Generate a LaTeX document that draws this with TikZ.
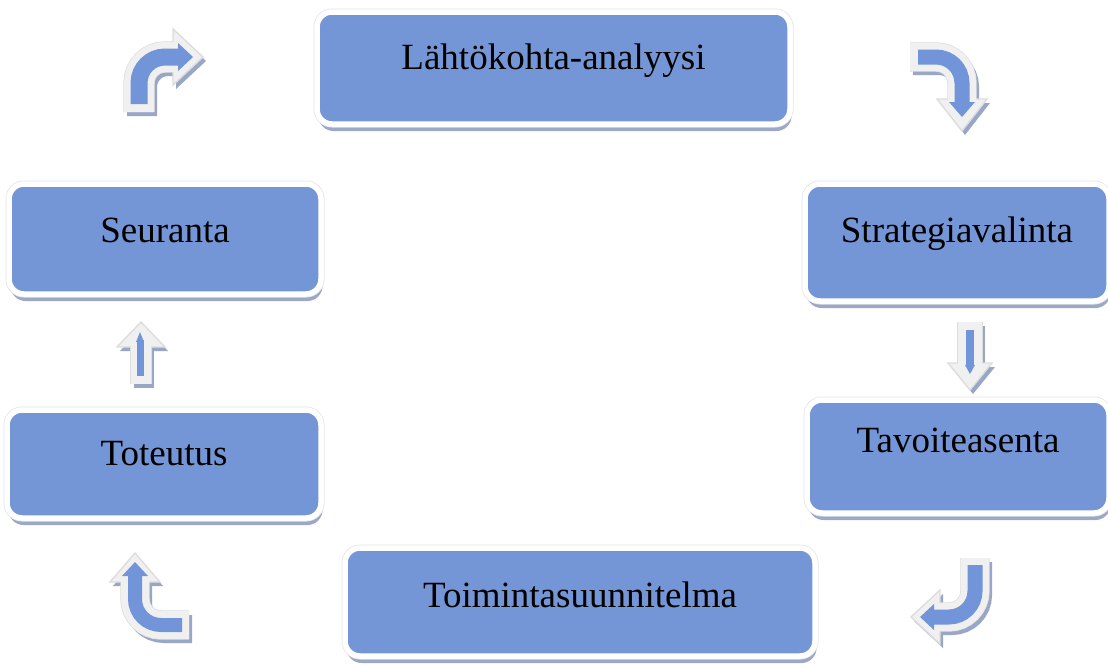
\documentclass[tikz,border=0pt]{standalone}
\usepackage{fontspec}
\setmainfont{Liberation Serif}
\usetikzlibrary{shadows}
\definecolor{boxblue}{HTML}{7596D6}
\definecolor{boxedge}{HTML}{E4E4E4}
\definecolor{boxshadow}{HTML}{8A99BE}
\definecolor{arblue}{HTML}{7195D8}
\definecolor{arbody}{HTML}{F0F0F0}
\definecolor{arrim}{HTML}{DDDDDD}
\definecolor{arshadow}{HTML}{98A6C8}

% block arrow: #1 outer shaft, #2 outer width, #3 outer head,
%              #4 inner shaft, #5 inner width, #6 inner head
\newcommand{\blockarrow}[6]{%
  \begin{scope}[xshift=3pt,yshift=-4pt]
    \draw[arshadow, line width=#2] #1;
    \fill[arshadow] #3 -- cycle;
  \end{scope}
  \draw[arrim, line width=#2+1.4] #1;
  \filldraw[arrim, line width=1.4pt, line join=miter, fill=arbody] #3 -- cycle;
  \draw[arbody, line width=#2] #1;
  \draw[arblue, line width=#5] #4;
  \fill[arblue] #6 -- cycle;
}

\begin{document}
\begin{tikzpicture}[x=1pt,y=-1pt,
  stage/.style={rectangle, rounded corners=15pt, inner sep=0pt, outer sep=0pt,
    drop shadow={shadow xshift=1.5pt, shadow yshift=-7pt, fill=boxshadow, opacity=0.85},
    preaction={draw=boxedge, line width=7pt},
    fill=boxblue, draw=white, line width=5.5pt,
    font=\fontsize{37}{44}\selectfont, text=black, anchor=north west}]
\useasboundingbox[fill=white] (0,0) rectangle (1108,664);

% process stages
\node[stage, minimum width=473pt, text height=57pt, text depth=55pt] (lahto) at (317,12) {Lähtökohta-analyysi};
\node[stage, minimum width=304pt, text height=58pt, text depth=59pt] (strat) at (805,184) {Strategiavalinta};
\node[stage, minimum width=302pt, text height=52pt, text depth=61pt] (tavo) at (807,400) {Tavoiteasenta};
\node[stage, minimum width=470pt, text height=59pt, text depth=49pt] (toim) at (345,548) {Toimintasuunnitelma};
\node[stage, minimum width=314pt, text height=55pt, text depth=53pt] (tote) at (7,410) {Toteutus};
\node[stage, minimum width=312pt, text height=58pt, text depth=52pt] (seur) at (9,184) {Seuranta};

% Seuranta -> Lähtökohta-analyysi (up, then right)
\blockarrow{[rounded corners=26pt] (139,112) -- (139,57) -- (176,57)}{30}
  {(173,29) -- (203,57) -- (173,85)}
  {[rounded corners=26pt] (139,104) -- (139,57) -- (181,57)}{17}
  {(178,43) -- (193,57) -- (178,71)}

% Lähtökohta-analyysi -> Strategiavalinta (right, then down)
\blockarrow{[rounded corners=26pt] (910,57) -- (962,57) -- (962,101)}{28}
  {(937,99) -- (962,131) -- (987,99)}
  {[rounded corners=26pt] (918,57) -- (962,57) -- (962,105)}{15}
  {(949,102) -- (962,117) -- (975,102)}

% Strategiavalinta -> Tavoiteasenta (straight down)
\blockarrow{(970,322) -- (970,366)}{24}
  {(948,363) -- (970,390) -- (992,363)}
  {(970,330) -- (970,367)}{8}
  {(965,365) -- (970,374) -- (975,365)}

% Tavoiteasenta -> Toimintasuunnitelma (down, then left)
\blockarrow{[rounded corners=26pt] (975,558) -- (975,617) -- (937,617)}{28}
  {(940,590) -- (911,617) -- (940,644)}
  {[rounded corners=26pt] (975,565) -- (975,617) -- (932,617)}{15}
  {(934,604) -- (920,617) -- (934,630)}

% Toimintasuunnitelma -> Toteutus (left, then up)
\blockarrow{[rounded corners=26pt] (189,625) -- (135,625) -- (135,579)}{28}
  {(110,582) -- (135,553) -- (160,582)}
  {[rounded corners=26pt] (182,625) -- (135,625) -- (135,574)}{14}
  {(122,576) -- (135,562) -- (148,576)}

% Toteutus -> Seuranta (straight up)
\blockarrow{(141,384) -- (141,344)}{20}
  {(117,347) -- (141,322) -- (165,347)}
  {(140,376) -- (140,340)}{7}
  {(136,342) -- (140,332) -- (144,342)}
\end{tikzpicture}
\end{document}
